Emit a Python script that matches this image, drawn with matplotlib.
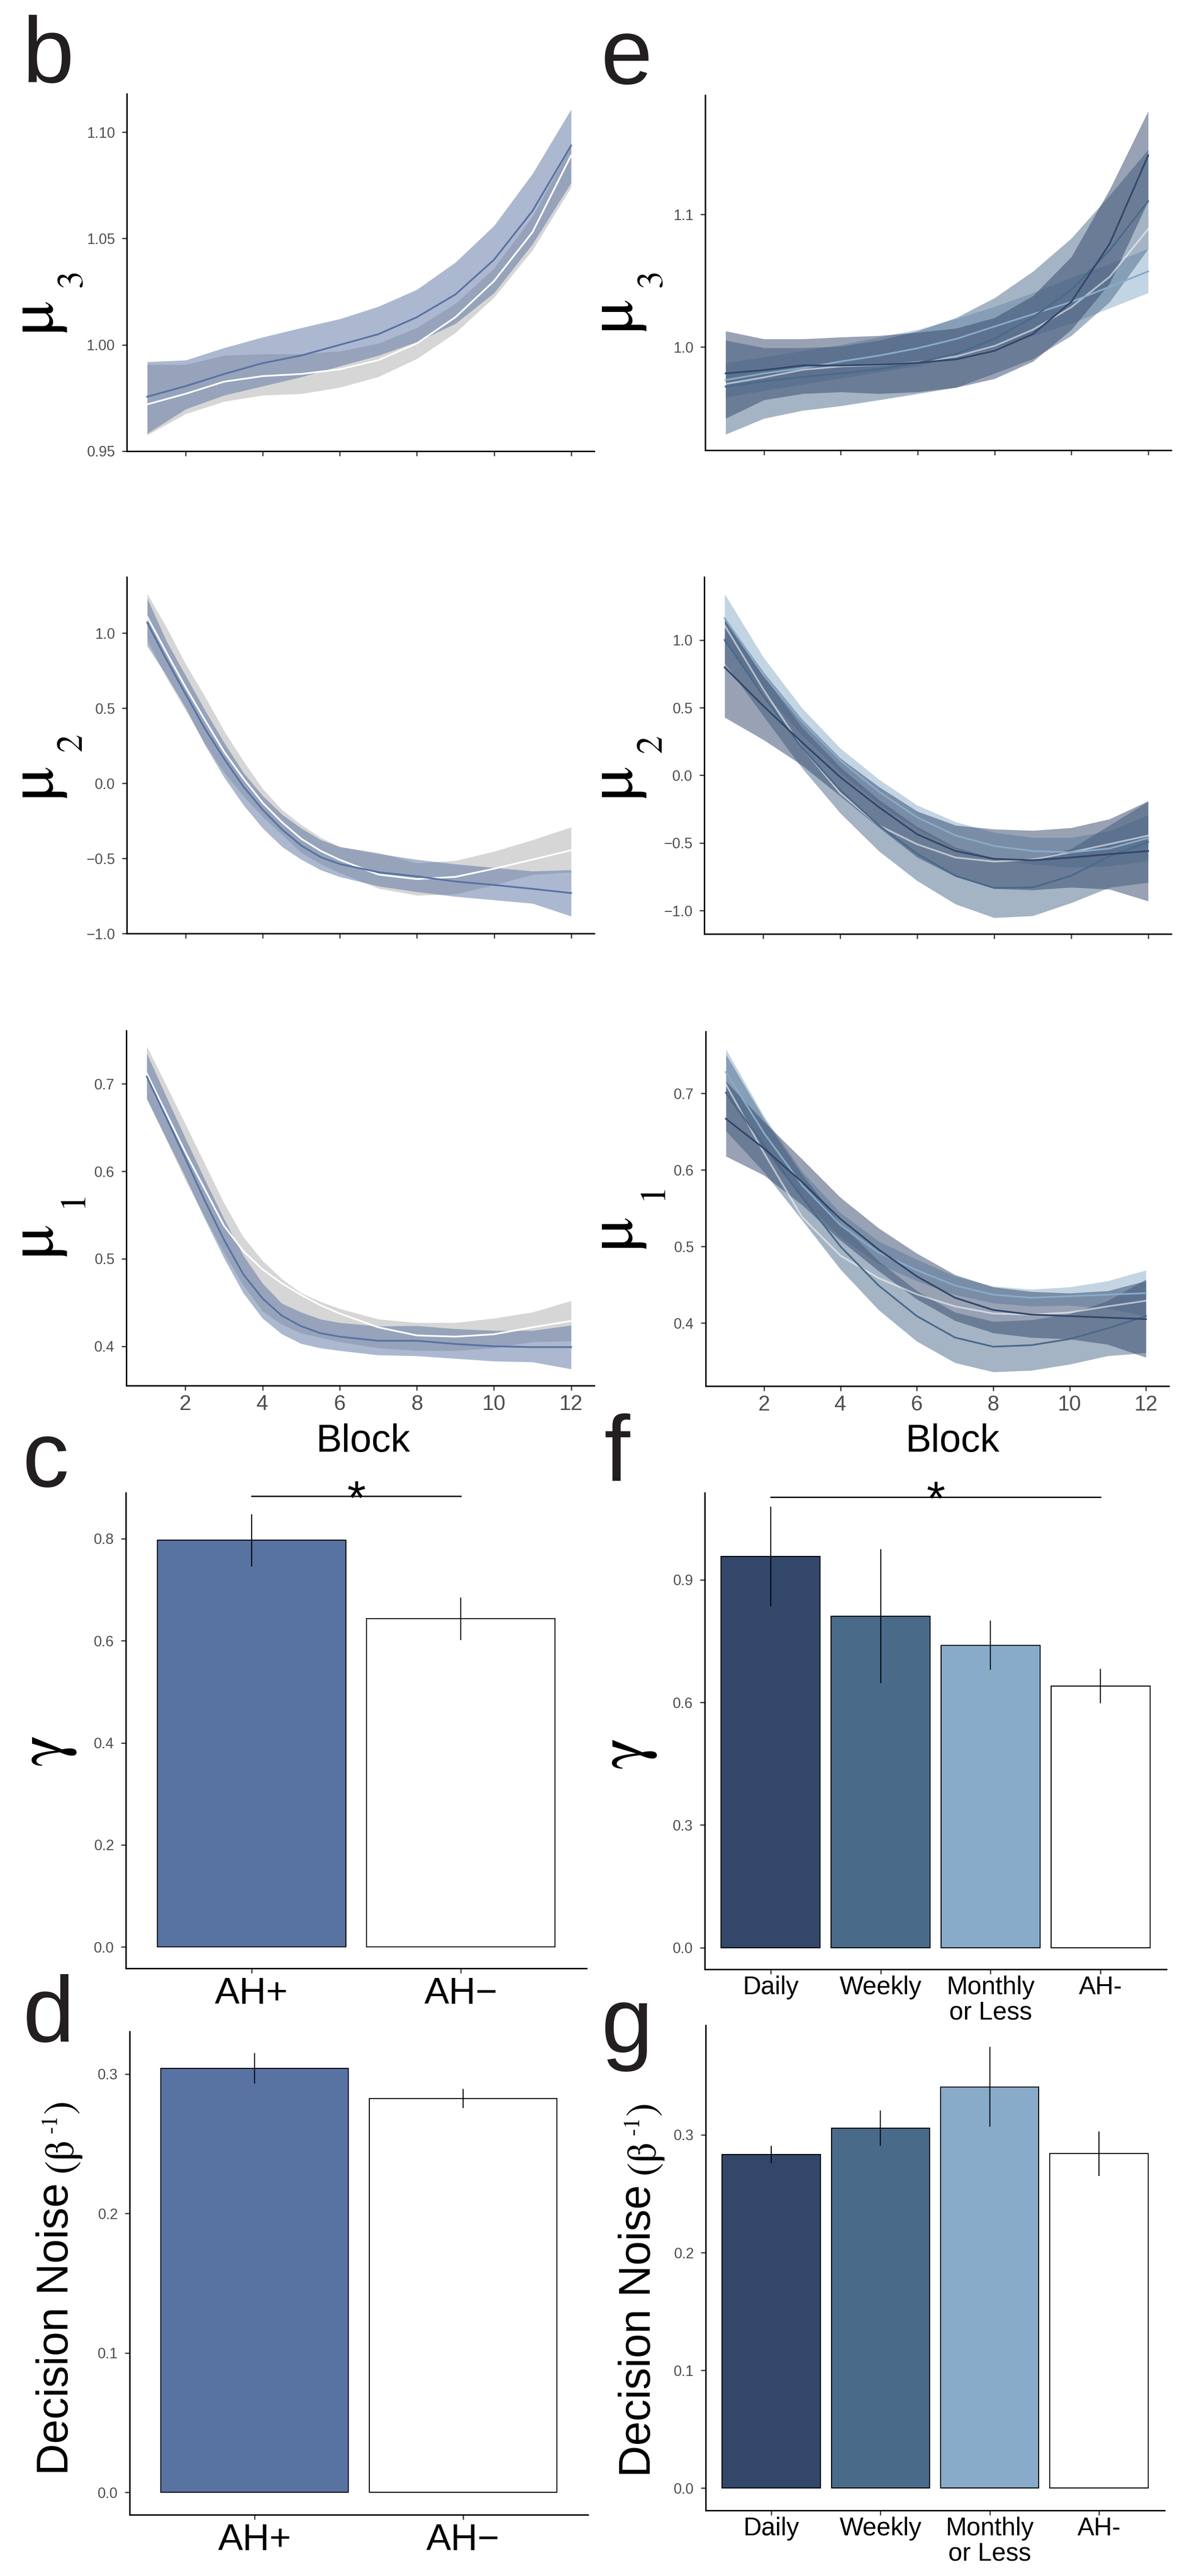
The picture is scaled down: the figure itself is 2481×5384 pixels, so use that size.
import numpy as np
import matplotlib
matplotlib.use("Agg")
import matplotlib.pyplot as plt

plt.rcParams['font.family'] = ['Liberation Sans', 'DejaVu Sans']
SERIF = ['STIXGeneral', 'Liberation Serif', 'DejaVu Serif']

W, H = 2481, 5384

blocks = np.arange(1, 13)
# finer sampling where the mu2 / mu1 curves bend sharply
blocks_fine = [1, 1.5, 2, 2.5, 3, 3.5, 4, 4.5, 5, 5.5, 6, 7, 8, 9, 10, 11, 12]

# ---- learning-rate smooths, AH+ vs AH- (fit, lower, upper) ----
mu3_ahp_fit = [0.9756, 0.9806, 0.9863, 0.9914, 0.9950, 1.0000, 1.0050, 1.0130, 1.0237, 1.0400, 1.0630, 1.0937]
mu3_ahp_lo = [0.9583, 0.9698, 0.9763, 0.9806, 0.9849, 0.9900, 0.9950, 1.0014, 1.0100, 1.0244, 1.0474, 1.0762]
mu3_ahp_hi = [0.9920, 0.9928, 0.9986, 1.0036, 1.0080, 1.0122, 1.0180, 1.0260, 1.0388, 1.0560, 1.0805, 1.1107]
mu3_ahm_fit = [0.9720, 0.9770, 0.9827, 0.9853, 0.9863, 0.9885, 0.9928, 1.0007, 1.0130, 1.0300, 1.0530, 1.0890]
mu3_ahm_lo = [0.9576, 0.9676, 0.9734, 0.9763, 0.9770, 0.9800, 0.9850, 0.9935, 1.0057, 1.0223, 1.0446, 1.0740]
mu3_ahm_hi = [0.9907, 0.9907, 0.9950, 0.9957, 0.9957, 0.9970, 1.0007, 1.0080, 1.0194, 1.0360, 1.0604, 1.0934]

mu2_ahp_fit = [1.069, 0.823, 0.592, 0.362, 0.162, -0.023, -0.177, -0.308, -0.415, -0.492, -0.538,
               -0.592, -0.620, -0.654, -0.677, -0.703, -0.731]
mu2_ahp_lo = [0.915, 0.715, 0.500, 0.254, 0.038, -0.146, -0.300, -0.423, -0.508, -0.577, -0.623,
              -0.685, -0.723, -0.754, -0.777, -0.800, -0.885]
mu2_ahp_hi = [1.231, 0.946, 0.715, 0.485, 0.269, 0.069, -0.085, -0.208, -0.300, -0.377, -0.423,
              -0.469, -0.508, -0.538, -0.562, -0.585, -0.577]
mu2_ahm_fit = [1.108, 0.870, 0.638, 0.420, 0.208, 0.030, -0.131, -0.260, -0.370, -0.450, -0.510,
               -0.608, -0.638, -0.623, -0.569, -0.508, -0.446]
mu2_ahm_lo = [0.954, 0.702, 0.484, 0.263, 0.070, -0.086, -0.224, -0.343, -0.463, -0.538, -0.597,
              -0.700, -0.746, -0.738, -0.677, -0.608, -0.592]
mu2_ahm_hi = [1.262, 1.038, 0.792, 0.577, 0.346, 0.146, -0.038, -0.177, -0.277, -0.362, -0.423,
              -0.462, -0.531, -0.515, -0.454, -0.377, -0.292]

mu1_ahp_fit = [0.7085, 0.662, 0.615, 0.567, 0.522, 0.4825, 0.4547, 0.435, 0.423, 0.415, 0.411,
               0.4063, 0.4063, 0.4026, 0.400, 0.399, 0.399]
mu1_ahp_lo = [0.683, 0.638, 0.5935, 0.546, 0.501, 0.461, 0.432, 0.414, 0.403, 0.398, 0.395,
              0.390, 0.389, 0.386, 0.383, 0.382, 0.374]
mu1_ahp_hi = [0.735, 0.686, 0.638, 0.591, 0.546, 0.504, 0.472, 0.449, 0.439, 0.431, 0.427,
              0.423, 0.4235, 0.420, 0.418, 0.418, 0.424]
mu1_ahm_fit = [0.712, 0.667, 0.622, 0.580, 0.538, 0.509, 0.488, 0.472, 0.4587, 0.447, 0.4375,
               0.4217, 0.4124, 0.411, 0.4137, 0.4217, 0.429]
mu1_ahm_lo = [0.683, 0.637, 0.590, 0.548, 0.507, 0.470, 0.440, 0.425, 0.415, 0.410, 0.405,
              0.398, 0.395, 0.395, 0.398, 0.405, 0.406]
mu1_ahm_hi = [0.743, 0.699, 0.654, 0.609, 0.564, 0.525, 0.498, 0.477, 0.461, 0.451, 0.443,
              0.431, 0.427, 0.427, 0.432, 0.439, 0.452]

# AH- mu3 at whole blocks (the frequency panels share this group)
mu3_ahm = (mu3_ahm_fit, mu3_ahm_lo, mu3_ahm_hi)

# ---- smooths by frequency of hallucinations ----
mu3_daily_fit = [0.9800, 0.9825, 0.9860, 0.9860, 0.9866, 0.9880, 0.9906, 0.9970, 1.0097, 1.0340, 1.0780, 1.1445]
mu3_daily_lo = [0.9460, 0.9600, 0.9647, 0.9660, 0.9647, 0.9660, 0.9694, 0.9760, 0.9890, 1.0130, 1.0480, 1.1100]
mu3_daily_hi = [1.0120, 1.0060, 1.0060, 1.0074, 1.0085, 1.0110, 1.0140, 1.0220, 1.0385, 1.0680, 1.1190, 1.1780]
mu3_weekly_fit = [0.9700, 0.9740, 0.9774, 0.9800, 0.9832, 0.9880, 0.9947, 1.0060, 1.0224, 1.0430, 1.0730, 1.1100]
mu3_weekly_lo = [0.9340, 0.9460, 0.9520, 0.9555, 0.9600, 0.9647, 0.9694, 0.9800, 0.9910, 1.0085, 1.0340, 1.0740]
mu3_weekly_hi = [1.0050, 0.9993, 0.9993, 1.0005, 1.0050, 1.0120, 1.0220, 1.0370, 1.0570, 1.0820, 1.1145, 1.1490]
mu3_monthly_fit = [0.9750, 0.9800, 0.9840, 0.9890, 0.9935, 0.9990, 1.0060, 1.0154, 1.0247, 1.0340, 1.0454, 1.0570]
mu3_monthly_lo = [0.9620, 0.9670, 0.9717, 0.9763, 0.9810, 0.9855, 0.9924, 0.9993, 1.0085, 1.0177, 1.0293, 1.0408]
mu3_monthly_hi = [0.9878, 0.9924, 0.9970, 1.0016, 1.0074, 1.0131, 1.0212, 1.0304, 1.0408, 1.0523, 1.0627, 1.0742]

mu2_daily_fit = [0.798, 0.514, 0.246, -0.013, -0.234, -0.436, -0.560, -0.618, -0.628, -0.608, -0.583, -0.560]
mu2_daily_lo = [0.428, 0.264, 0.076, -0.153, -0.384, -0.606, -0.750, -0.838, -0.848, -0.828, -0.843, -0.930]
mu2_daily_hi = [1.168, 0.764, 0.416, 0.127, -0.084, -0.266, -0.370, -0.398, -0.408, -0.388, -0.323, -0.190]
mu2_weekly_fit = [1.000, 0.590, 0.207, -0.109, -0.369, -0.580, -0.743, -0.833, -0.829, -0.743, -0.599, -0.493]
mu2_weekly_lo = [0.830, 0.440, 0.057, -0.279, -0.559, -0.780, -0.953, -1.053, -1.039, -0.943, -0.829, -0.793]
mu2_weekly_hi = [1.170, 0.740, 0.357, 0.061, -0.179, -0.380, -0.533, -0.613, -0.619, -0.543, -0.369, -0.193]
mu2_monthly_fit = [1.161, 0.745, 0.400, 0.111, -0.119, -0.311, -0.445, -0.522, -0.560, -0.570, -0.541, -0.464]
mu2_monthly_lo = [0.981, 0.615, 0.300, 0.021, -0.209, -0.401, -0.545, -0.622, -0.660, -0.680, -0.671, -0.634]
mu2_monthly_hi = [1.341, 0.875, 0.500, 0.201, -0.029, -0.221, -0.345, -0.422, -0.460, -0.460, -0.411, -0.294]
mu2_ahm_whole = ([1.108, 0.638, 0.208, -0.131, -0.370, -0.510, -0.608, -0.638, -0.623, -0.569, -0.508, -0.446],
                 [0.954, 0.484, 0.070, -0.224, -0.463, -0.597, -0.700, -0.746, -0.738, -0.677, -0.608, -0.592],
                 [1.262, 0.792, 0.346, -0.038, -0.277, -0.423, -0.462, -0.531, -0.515, -0.454, -0.377, -0.292])

mu1_daily_fit = [0.667, 0.628, 0.584, 0.536, 0.496, 0.461, 0.433, 0.417, 0.411, 0.409, 0.407, 0.405]
mu1_daily_lo = [0.618, 0.593, 0.554, 0.508, 0.468, 0.431, 0.403, 0.387, 0.381, 0.379, 0.372, 0.355]
mu1_daily_hi = [0.716, 0.663, 0.614, 0.564, 0.524, 0.491, 0.463, 0.447, 0.441, 0.439, 0.442, 0.455]
mu1_weekly_fit = [0.701, 0.632, 0.564, 0.500, 0.449, 0.409, 0.381, 0.369, 0.371, 0.379, 0.393, 0.409]
mu1_weekly_lo = [0.651, 0.597, 0.534, 0.470, 0.417, 0.376, 0.348, 0.336, 0.338, 0.346, 0.357, 0.361]
mu1_weekly_hi = [0.751, 0.667, 0.594, 0.530, 0.481, 0.442, 0.414, 0.402, 0.404, 0.412, 0.429, 0.457]
mu1_monthly_fit = [0.728, 0.648, 0.580, 0.528, 0.492, 0.469, 0.449, 0.437, 0.433, 0.435, 0.437, 0.439]
mu1_monthly_lo = [0.698, 0.626, 0.562, 0.512, 0.477, 0.455, 0.437, 0.426, 0.422, 0.423, 0.419, 0.409]
mu1_monthly_hi = [0.758, 0.670, 0.598, 0.544, 0.507, 0.483, 0.461, 0.448, 0.444, 0.447, 0.455, 0.469]
mu1_ahm_whole = ([0.712, 0.622, 0.538, 0.488, 0.4587, 0.4375, 0.4217, 0.4124, 0.411, 0.4137, 0.4217, 0.429],
                 [0.683, 0.590, 0.507, 0.440, 0.415, 0.405, 0.398, 0.395, 0.395, 0.398, 0.405, 0.406],
                 [0.743, 0.654, 0.564, 0.498, 0.461, 0.443, 0.431, 0.427, 0.427, 0.432, 0.439, 0.452])

# ---- bar panels ----
ah_labels = ['AH+', 'AH\u2212']
gamma_ah = [0.797, 0.643]
gamma_ah_err = [0.051, 0.042]
noise_ah = [0.304, 0.2825]
noise_ah_err = [0.011, 0.007]

freq_labels = ['Daily', 'Weekly', 'Monthly\nor Less', 'AH-']
gamma_freq = [0.957, 0.811, 0.740, 0.640]
gamma_freq_err = [0.122, 0.164, 0.060, 0.042]
noise_freq = [0.2833, 0.3057, 0.3407, 0.284]
noise_freq_err = [0.0075, 0.015, 0.034, 0.019]

AHP = '#5872a2'
GREY = '#d6d6d6'
DAILY = '#33476a'
WEEKLY = '#4a6a8a'
MONTHLY = '#88abc9'
INK = '#231f20'

fig = plt.figure(figsize=(W / 100, H / 100), dpi=100)


def px_axes(l, t, r, b):
    return fig.add_axes([l / W, 1 - b / H, (r - l) / W, (b - t) / H])


def put(x, y, s, **kw):
    return fig.text(x / W, 1 - y / H, s, **kw)


def classic(ax, labelsize=22):
    for s in ['top', 'right']:
        ax.spines[s].set_visible(False)
    for s in ['left', 'bottom']:
        ax.spines[s].set_linewidth(2.2)
        ax.spines[s].set_color('black')
    ax.tick_params(length=7.5, width=1.8, color='#333333', labelcolor='#4d4d4d',
                   labelsize=labelsize, pad=10)


def smooth_panel(box, groups, ylim, yticks, ylabels, xlabels=False):
    ax = px_axes(*box)
    for x, (fit, lo, hi), fill, line, alpha, lalpha in groups:
        ax.fill_between(x, lo, hi, color=fill, alpha=alpha, lw=0)
        ax.plot(x, fit, color=line, lw=2.6, alpha=lalpha, solid_joinstyle='round')
    classic(ax)
    ax.set_xlim(0.47, 12.6)
    ax.set_ylim(*ylim)
    ax.set_yticks(yticks)
    ax.set_yticklabels(ylabels)
    ax.set_xticks([2, 4, 6, 8, 10, 12])
    if xlabels:
        ax.tick_params(axis='x', labelsize=32, pad=6)
    else:
        ax.set_xticklabels([])
    return ax


def bar_panel(box, labels, vals, errs, colors, ylim, yticks, ylabels, xsize, xpad):
    ax = px_axes(*box)
    x = np.arange(1, len(vals) + 1)
    ax.bar(x, vals, width=0.9, color=colors, edgecolor='black', linewidth=1.5)
    ax.vlines(x, np.array(vals) - np.array(errs), np.array(vals) + np.array(errs),
              color='black', lw=1.6)
    classic(ax)
    ax.set_xlim(0.4, len(vals) + 0.6)
    ax.set_ylim(*ylim)
    ax.set_yticks(yticks)
    ax.set_yticklabels(ylabels)
    ax.set_xticks(x)
    ax.set_xticklabels(labels, fontsize=xsize, color='black', linespacing=1.05)
    ax.tick_params(axis='x', pad=xpad)
    return ax


def sig(ax, x0, x1, y):
    ax.plot([x0, x1], [y, y], color='black', lw=2, clip_on=False)
    ax.annotate('*', xy=((x0 + x1) / 2, y), xytext=(0, -27), textcoords='offset points',
                ha='center', va='baseline', fontsize=72, annotation_clip=False)


mu_ticks = ['\u22121.0', '\u22120.5', '0.0', '0.5', '1.0']

# left column: AH- (grey ribbon, white line) under AH+
ahm = lambda x, d: (x, d, GREY, 'white', 1.0, 1.0)
ahp = lambda x, d: (x, d, AHP, AHP, 0.5, 1.0)
smooth_panel((265, 196, 1242, 943),
             [ahm(blocks, mu3_ahm), ahp(blocks, (mu3_ahp_fit, mu3_ahp_lo, mu3_ahp_hi))],
             (0.95, 1.118), [0.95, 1.0, 1.05, 1.10], ['0.95', '1.00', '1.05', '1.10'])
smooth_panel((265, 1206, 1242, 1951),
             [ahm(blocks_fine, (mu2_ahm_fit, mu2_ahm_lo, mu2_ahm_hi)),
              ahp(blocks_fine, (mu2_ahp_fit, mu2_ahp_lo, mu2_ahp_hi))],
             (-1.0, 1.373), [-1, -0.5, 0, 0.5, 1], mu_ticks)
smooth_panel((264, 2154, 1242, 2896),
             [ahm(blocks_fine, (mu1_ahm_fit, mu1_ahm_lo, mu1_ahm_hi)),
              ahp(blocks_fine, (mu1_ahp_fit, mu1_ahp_lo, mu1_ahp_hi))],
             (0.355, 0.761), [0.4, 0.5, 0.6, 0.7], ['0.4', '0.5', '0.6', '0.7'], xlabels=True)

# right column: AH- first, then Monthly, Weekly, Daily on top
grp = lambda d, c: (blocks, d, c, c, 0.5, 1.0)
ahm_w = lambda d: (blocks, d, 'white', 'white', 0.5, 0.55)
smooth_panel((1474, 199, 2448, 941),
             [ahm_w(mu3_ahm),
              grp((mu3_monthly_fit, mu3_monthly_lo, mu3_monthly_hi), MONTHLY),
              grp((mu3_weekly_fit, mu3_weekly_lo, mu3_weekly_hi), WEEKLY),
              grp((mu3_daily_fit, mu3_daily_lo, mu3_daily_hi), DAILY)],
             (0.922, 1.19), [1.0, 1.1], ['1.0', '1.1'])
smooth_panel((1472, 1206, 2448, 1952),
             [ahm_w(mu2_ahm_whole),
              grp((mu2_monthly_fit, mu2_monthly_lo, mu2_monthly_hi), MONTHLY),
              grp((mu2_weekly_fit, mu2_weekly_lo, mu2_weekly_hi), WEEKLY),
              grp((mu2_daily_fit, mu2_daily_lo, mu2_daily_hi), DAILY)],
             (-1.173, 1.466), [-1, -0.5, 0, 0.5, 1], mu_ticks)
smooth_panel((1475, 2156, 2443, 2897),
             [ahm_w(mu1_ahm_whole),
              grp((mu1_monthly_fit, mu1_monthly_lo, mu1_monthly_hi), MONTHLY),
              grp((mu1_weekly_fit, mu1_weekly_lo, mu1_weekly_hi), WEEKLY),
              grp((mu1_daily_fit, mu1_daily_lo, mu1_daily_hi), DAILY)],
             (0.3175, 0.781), [0.4, 0.5, 0.6, 0.7], ['0.4', '0.5', '0.6', '0.7'], xlabels=True)

put(759, 3034, 'Block', ha='center', va='baseline', fontsize=58)
put(1991, 3034, 'Block', ha='center', va='baseline', fontsize=58)

# bars
ax_c = bar_panel((263, 3120, 1226, 4114), ah_labels, gamma_ah, gamma_ah_err, [AHP, 'white'],
                 (-0.042, 0.89), [0, 0.2, 0.4, 0.6, 0.8], ['0.0', '0.2', '0.4', '0.6', '0.8'], 56, 5)
sig(ax_c, 1, 2, 0.883)
ax_f = bar_panel((1473, 3120, 2438, 4116), freq_labels, gamma_freq, gamma_freq_err,
                 [DAILY, WEEKLY, MONTHLY, 'white'],
                 (-0.053, 1.113), [0, 0.3, 0.6, 0.9], ['0.0', '0.3', '0.6', '0.9'], 38, 2)
sig(ax_f, 1, 4, 1.103)
bar_panel((271, 4246, 1229, 5256), ah_labels, noise_ah, noise_ah_err, [AHP, 'white'],
          (-0.016, 0.3305), [0, 0.1, 0.2, 0.3], ['0.0', '0.1', '0.2', '0.3'], 56, 5)
bar_panel((1475, 4233, 2434, 5247), freq_labels, noise_freq, noise_freq_err,
          [DAILY, WEEKLY, MONTHLY, 'white'],
          (-0.019, 0.393), [0, 0.1, 0.2, 0.3], ['0.0', '0.1', '0.2', '0.3'], 38, 2)

# y-axis labels
rot = dict(rotation=90, rotation_mode='anchor', ha='left', va='baseline')
for bx, sx, rows in [(103, 170, [(695, 600, '3'), (1668, 1570, '2'), (2626, 2524, '1')]),
                     (1314, 1382, [(692, 600, '3'), (1668, 1573, '2'), (2610, 2508, '1')])]:
    for my, sy, sub in rows:
        put(bx, my, '\u03bc', family=SERIF, fontsize=100, **rot)
        put(sx, sy, sub, family=SERIF, fontsize=54, **rot)

put(130, 3690, '\u03b3', family=SERIF, fontsize=100, **rot)
put(1343, 3696, '\u03b3', family=SERIF, fontsize=100, **rot)

renderer = fig.canvas.get_renderer()


def noise_label(bx, by):
    t = put(bx, by, 'Decision Noise', fontsize=66, **rot)
    y = H - t.get_window_extent(renderer).y1 - 22
    t = put(bx + 8, y, '(\u03b2', family=SERIF, fontsize=62, **rot)
    y = H - t.get_window_extent(renderer).y1 - 10
    t = put(bx - 24, y, '-1', family=SERIF, fontsize=34, **rot)
    y = H - t.get_window_extent(renderer).y1 - 2
    put(bx + 8, y, ')', family=SERIF, fontsize=62, **rot)


noise_label(142, 5173)
noise_label(1359, 5177)

# panel letters
for x, y, s in [(46, 172, 'b'), (1256, 175, 'e'), (47, 3107, 'c'), (1262, 3095, 'f'),
                (48, 4267, 'd'), (1257, 4290, 'g')]:
    put(x, y, s, fontsize=140, color=INK, ha='left', va='baseline')

fig.savefig('out.png', dpi=100)
